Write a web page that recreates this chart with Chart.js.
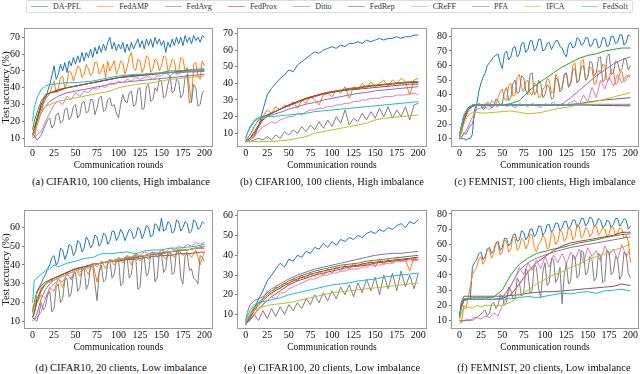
<!DOCTYPE html>
<html>
<head>
<meta charset="utf-8">
<script src="https://cdn.jsdelivr.net/npm/chart.js@4"></script>
<style>
  body { margin: 0; width: 640px; height: 374px; background: #fff; position: relative; overflow: hidden;
         font-family: "Liberation Serif", "Times New Roman", serif; }
  canvas { position: absolute; }
  .cap { position: absolute; font-size: 10.5px; line-height: 12px; color: #111; white-space: nowrap; transform: translateX(-50%); }
  #legend { position: absolute; left: 26px; top: 0; width: 607px; height: 13px; box-sizing: border-box;
            border: 1px solid #ddd; border-radius: 2px; display: flex; align-items: center;
            justify-content: space-between; padding: 0 4px; font-size: 8px; color: #333; }
  #legend .item { display: flex; align-items: center; }
  #legend .sw { width: 17px; height: 0; border-top: 1.3px solid; opacity: .55; margin-right: 5px; }
</style>
</head>
<body>
<div id="legend"></div>

<script>
const roundsDense = [0,2.5,5,7.5,10,12.5,15,17.5,20,22.5,25,27.5,30,32.5,35,37.5,40,42.5,45,47.5,50,52.5,55,57.5,60,62.5,65,67.5,70,72.5,75,77.5,80,82.5,85,87.5,90,92.5,95,97.5,100,102.5,105,107.5,110,112.5,115,117.5,120,122.5,125,127.5,130,132.5,135,137.5,140,142.5,145,147.5,150,152.5,155,157.5,160,162.5,165,167.5,170,172.5,175,177.5,180,182.5,185,187.5,190,192.5,195,197.5,200];
const roundsFine = [0,2,5,10,15,20,25,30,35,40,45,50,55,60,65,70,75,80,85,90,95,100,105,110,115,120,125,130,135,140,145,150,155,160,165,170,175,180,185,190,195,200];
const roundsCoarse = [0,2,5,10,15,20,25,30,40,50,60,70,80,90,100,110,120,130,140,150,160,170,180,190,200];
const xTicks = [0,25,50,75,100,125,150,175,200];

const methods = ['DA-PFL','FedAMP','FedAvg','FedProx','Ditto','FedRep','CReFF','PFA','IFCA','FedSoft'];

// (a) CIFAR10, 100 clients, High imbalance
const aDaPfl = [12,15,20,25,28,31,33,38,42,47, 53,45,48,54,50,55,49,56,53,58, 54,59,55,61,56,61,58,63,58,64,
  60,65,61,66,62,67,70,63,67,62, 66,63,67,61,66,62,67,63,66,69, 64,68,63,69,65,69,64,70,66,69,
  65,68,61,67,64,69,65,70,66,70, 65,71,67,70,66,71,68,70,67,71, 70];
const aFedAmp = [10,11,18,22,26,30,33,35,36,41, 44,37,40,46,47,40,43,50,49,44, 48,53,52,46,48,54,51,47,49,55,
  55,48,50,54,46,56,50,53,56,48, 51,56,55,48,52,58,61,52,50,57, 56,49,52,59,58,49,51,57,56,50,
  53,59,58,50,52,57,56,48,50,58, 57,50,52,41,31,54,55,47,45,56, 53];
const aFedAvg = [15,20,25,32,36,37,38,39,40,41,42,43,44,45,46,47,47.5,48,48.5,49,50,50,50.5,51,51];
const aFedProx = [12,16,22,30,35,37,37.5,38.5,40,41,42,43,44,45,46,46.5,47,47.5,48,48.5,49,49.5,50,50,50];
const aDitto = [11,13,18,25,29,32,33.5,35,37,38,39,40,41,42,43,43.5,44,44.5,45,45.5,46,46.5,47,47.5,48];
const aFedRep = [12,15,20,30,35,37,37.5,38,40,41,42,43,44,45,46,46.5,47,47.5,48,48.5,49,49,49.5,49.5,50];
const aCreff = [11,10,12,14,20,25,30,32,30,35,33,37,35,38,37,40,39,41,40,43,42,44,43,45,44,46,45,46,47,45,47,47,49,47,49,48,50,49,51,50,52,51];
const aPfa = [13,11,9,10,12,15,18,21,22,16, 18,24,25,19,20,27,28,21,23,29, 30,22,24,31,32,25,26,33,33,24,
  28,34,35,26,27,33,34,29,30,25, 22,30,36,32,31,37,38,29,30,39, 40,27,28,41,42,32,33,40,38,45,
  44,34,35,42,47,37,38,45,44,34, 36,46,48,31,32,42,40,29,30,37, 38];
const aIfca = [12,14,18,26,29,30,31,32,33,34,35,36,37,38,40,41,42,42.5,43,44,45,45.5,46,46.5,47];
const aFedSoft = [20,28,34,39,41,42,42,42.5,43,43,43.5,44,45,46,47,47.5,48,48,48.5,48.5,49,49,49.5,49.5,50];

// (b) CIFAR100, 100 clients, High imbalance
const bDaPfl = [6,5,6,8,14,24,33,37,40,43,45,48,47,51,53,55,57,59,58,60,61,62,61,63,62,64,64,65,64,66,65,66,67,66,67,67,68,67,68,68,69,69];
const bFedAmp = [5,5,6,9,14,20,24,22,26,24,27,26,29,25,30,28,32,30,27,33,34,32,36,34,38,31,38,36,40,37,41,38,40,42,38,42,40,43,41,33,42,43];
const bFedAvg = [5,7,9,14,18,20,21,22,24.5,27,29,31,32.5,34,35,36,37,37.5,38.5,39,39.5,40,40.5,41,41];
const bFedProx = [5,6,7,10,14,18,20,22,24.5,27,29,31,32.5,34,35,35.5,36.5,37,38,38.5,39,39.5,40,40.5,40.5];
const bDitto = [7,10,13,17,19,20,20.5,21,22.5,24.5,26,27.5,28.5,30,31,32,33,34,34.5,35.5,36,36.5,37,37.5,38];
const bFedRep = [5,6,7,11,15,19,21,22,24.5,26.5,28.5,30.5,32,33.5,34.5,35.5,36,36.5,37,37.5,38,38.5,39,39.5,39.5];
const bCreff = [5,5,6,8,11,14,15,17,16,18,19,20,20,22,21,23,24,24,25,25,26,26,27,27,28,28,29,29,30,30,31,31,31,32,32,32,33,33,33,34,34,33];
const bPfa = [5,5,5,6,7,6,8,6,9,7,11,9,12,10,14,11,15,12,17,13,18,14,20,16,24,15,19,17,22,18,23,19,25,20,26,19,24,20,26,18,27,28];
const bIfca = [5,5,5,5,5,5,5,5,5.5,6,7,8,10,11,12,13,14,15,16,18,19,19.5,20,20.5,21];
const bFedSoft = [7,10,14,18,19.5,20,20,20,20.5,21,21.5,22,23,23.5,24,24.5,25,25.5,26,26.5,27,27.5,28,28.5,29];

// (c) FEMNIST, 100 clients, High imbalance
const cDaPfl = [10,10,10,9,10,10,13,30,33,42, 48,52,55,60,62,64,66,67,68,62, 58,68,70,64,66,72,73,66,68,75,
  76,69,71,77,77,70,72,78,78,70, 71,75,76,71,74,77,77,73,72,68, 66,74,76,72,73,79,78,74,75,79,
  79,73,74,78,78,72,73,79,79,73, 74,80,80,75,76,81,81,74,76,81, 80];
const cFedAmp = [12,14,22,25,28,30,32,33,32,34, 33,31,34,33,32,36,35,33,38,42, 44,37,36,46,48,39,40,52,54,45,
  42,49,50,41,40,48,47,38,39,44, 45,51,50,41,42,54,52,44,45,53, 55,46,48,60,62,49,50,63,64,50,
  52,59,58,47,48,57,55,61,60,50, 50,57,57,47,48,55,56,49,50,54, 53];
const cFedAvg = [13,18,25,31,33,33,33,33,33,33,34,36,42,47,51,55,59,62,65,67,68,70,71,72,72];
const cFedProx = [12,18,26,31,33,33,33,33,33,33,33,33,33,33,33,33,33,33,33,33,32.8,32.7,32.6,32.5,32.5];
const cDitto = [12,17,24,30,32,33,33,33,33,33,33,33,33,33,33,33,33.5,38,43,48,53,57,61,64,66];
const cFedRep = [11,16,22,30,32,33,33,33,33,33,33,33,33,33,33,33,33,33.5,34,35,35.8,36.5,37,37.5,38];
const cCreff = [10,11,13,18,25,30,31,32,30,33,32,34,32,33,31,34,33,32,34,33,31,34,33,35,32,34,33,35,36,33,40,35,45,38,50,44,52,46,54,48,53,52];
const cPfa = [10,11,14,13,16,19,20,26,32,34, 33,30,31,35,34,31,32,37,36,33, 34,42,45,36,38,48,50,41,42,53,
  52,43,40,54,55,40,42,50,48,38, 40,47,45,37,38,52,50,42,44,54, 55,45,47,57,58,48,50,59,60,50,
  52,63,62,53,55,65,66,49,50,66, 68,54,55,63,62,56,58,65,64,57, 60];
const cIfca = [10,14,20,26,28,28,27.5,27.5,28,28.5,29,28,27,27.5,28.5,30,31,32,33.5,34.5,35.5,37,38.5,40,41.5];
const cFedSoft = [12,18,26,31,33,33,33,33,33,33,33,33,33,33,33,33,33,33,33.2,33.4,33.5,33.5,33.5,33.5,33.5];

// (d) CIFAR10, 20 clients, Low imbalance
const dDaPfl = [17,19,25,28,30,33,35,38,40,44, 45,40,42,49,48,43,46,51,50,45, 47,53,52,47,49,55,53,49,51,56,
  55,50,52,57,56,51,53,58,58,53, 55,59,57,53,56,59,58,54,55,60, 59,54,57,61,60,55,56,62,61,58,
  65,58,59,63,62,57,58,64,63,58, 60,63,62,57,58,64,63,59,60,63, 62];
const dFedAmp = [16,18,20,24,22,28,26,33,28,36,32,38,34,39,35,41,31,42,38,43,40,44,41,45,40,46,42,45,43,47,44,46,43,47,44,48,45,47,44,48,40,47];
const dFedAvg = [12,14,20,26,30,32,33,34,36,38,39,40,41,42,43,43.5,44,45,46,46.5,47,47.5,48,49,50];
const dFedProx = [12,15,22,27,30,31,33,34,36,38,39,40.5,41,42,43,44,44,45,46,46,47,48,48,49,49];
const dDitto = [10,11,14,22,27,30,32,33,35,37,38.5,40,41,42,42.5,43,44,45,45.5,46,47,47.5,48,49,50];
const dFedRep = [15,20,26,29,31,32,33,34,36,38,39,40,41,42,42,43,43,44,44.5,45,45,46,46,46.5,47];
const dCreff = [10,11,12,15,22,28,30,32,31,35,33,38,36,39,38,41,39,42,41,43,42,44,43,45,44,46,45,47,46,47,46,48,47,49,48,50,49,51,50,52,51,52];
const dPfa = [12,11,10,14,20,16,18,24,26,15, 17,28,30,20,22,32,33,23,25,35, 36,26,28,37,38,27,30,40,40,30,
  21,36,40,31,32,41,42,33,35,43, 43,29,30,44,44,33,35,45,45,27, 28,43,44,34,36,46,46,31,33,46,
  46,36,38,47,47,35,36,48,48,33, 30,45,46,37,38,33,32,30,45,44, 42];
const dIfca = [14,18,25,28,30,31,32,33,35,37,38,40,41,42,43,44,45,45,46,47,47,48,48,49,50];
const dFedSoft = [20,32,33,35,37,38,40,39,41,42,43.5,44,46,46,46.5,47,46,47.5,48,48,49,49,49.5,50,51];

// (e) CIFAR100, 20 clients, Low imbalance
const eDaPfl = [5,6,9,13,18,22,27,30,33,36,34,38,37,40,39,42,41,44,43,46,44,47,45,48,47,49,48,50,49,51,52,51,53,52,54,53,55,56,54,57,56,58];
const eFedAmp = [5,6,9,13,16,18,22,20,24,23,26,25,28,27,30,28,31,29,32,30,33,31,34,32,35,33,36,34,36,35,37,34,38,35,38,36,39,37,38,32,39,37];
const eFedAvg = [5,7,10,14,16,18,20,22,24.5,27,29,30.5,32,33,34,35,35.5,36,37,37.5,38,38.5,39,39.5,40];
const eFedProx = [5,6,8,12,15,17,19,21,23.5,26,28,29.5,31,32,33,34,34.5,35,36,36.5,37,37.5,38,38.5,39];
const eDitto = [7,11,15,17,18,19,21,23,25.5,28,30,31.5,33,34,35,36,37,38,39,40,40.5,41,41,41.5,42];
const eFedRep = [5,6,7,10,13,15,17,19,22,25,27,28.5,30,31,32,33,34,34.5,35,36,36.5,37,37.5,38,38];
const eCreff = [5,6,7,10,13,15,17,19,18,21,21,23,24,25,26,27,28,28,29,30,30,31,31,32,32,33,33,33,34,34,35,35,35,36,36,36,37,37,37,38,37,38];
const ePfa = [5,6,8,10,7,12,8,13,9,14,10,15,12,16,13,18,15,20,16,21,17,22,18,24,20,25,19,26,21,28,22,29,20,30,23,31,22,32,24,30,23,31];
const eIfca = [6,8,10,12,13,14,14.5,15,15.5,16,17,18,19,20,21,21.5,22,22.5,23,23.5,24,24.5,25,25.5,26];
const eFedSoft = [6,9,12,15,16,16.5,17,17.5,18.5,20,21,22,23,24,25,25.5,26,27,27.5,28,29,29.5,30,30.5,31];

// (f) FEMNIST, 20 clients, Low imbalance
const fDaPfl = [14,20,24,24,24,24,45,48,50,54, 55,50,52,57,58,54,56,61,62,56, 58,64,64,59,61,66,67,62,63,69,
  68,63,65,70,70,65,67,72,72,66, 68,73,73,68,70,74,74,69,71,75, 75,70,72,76,76,71,73,77,77,72,
  74,78,77,72,73,77,76,71,72,76, 75,71,73,77,77,72,74,77,76,70, 72];
const fFedAmp = [8,9,20,18,25,32,40,43,45,50, 52,47,50,57,56,51,54,61,60,53, 55,63,62,55,57,65,64,56,58,64,
  63,57,60,67,66,58,55,60,62,66, 64,57,58,68,67,60,62,69,68,62, 64,71,70,63,65,73,72,64,66,71,
  70,65,67,72,72,66,68,71,70,65, 67,72,71,66,68,71,70,64,66,62, 48];
const fFedAvg = [13,20,24,24.5,25,25,25,25,25.5,30,40,47,51,54,55.5,57,58,59.5,61,62,63,64.5,65.5,66.5,67];
const fFedProx = [12,20,24,24,24,24,24,24,24,24.5,27,34,42,48,52,56,59,61,62,63,64,65,66,68,68];
const fDitto = [12,18,23,24,24,24,24,24,24,25,33,43,48,51,53,55,56.5,58,59,60,61,62,63,64,65];
const fFedRep = [12,22,26,26,26,26,26,26,26,26,26.5,27,28,28.5,29,29,29.5,30,30.5,31,31.5,32,32.5,34,33];
const fCreff = [10,9,10,11,10,12,11,13,12,15,13,20,25,33,38,45,40,48,43,50,44,52,45,53,48,54,47,55,50,57,48,58,52,56,49,59,53,57,50,60,52,57];
const fPfa = [10,10,10,10,10,10,11,12,12,13, 14,16,17,13,15,21,22,18,20,27, 26,20,22,32,30,24,25,38,35,26,
  28,44,42,28,30,47,45,31,25,42, 48,33,35,51,50,35,38,45,21,40, 48,34,36,53,52,38,40,56,55,40,
  42,52,50,36,38,54,53,35,36,56, 55,40,42,52,50,37,40,55,54,41, 38];
const fIfca = [10,15,18,19,18,20,19,20,20,20,22,26,30,34,37,40,42,45,47,50,52,54,56,58,60];
const fFedSoft = [12,18,23,24,24,24,24,24,24,24,24.5,25,26,25,26,27,28,27.5,28.5,29,28,29.5,30,30.5,29.5];

const yTicksA = [10,20,30,40,50,60,70];
const yTicksB = [10,20,30,40,50,60,70];
const yTicksC = [10,20,30,40,50,60,70,80];
const yTicksD = [10,20,30,40,50,60];
const yTicksE = [10,20,30,40,50,60];
const yTicksF = [10,20,30,40,50,60,70,80];

const colors = ['#1f77b4','#ff7f0e','#2ca02c','#d62728','#9467bd','#8c564b','#e377c2','#7f7f7f','#bcbd22','#17becf'];

const panels = [
  { series: [aDaPfl,aFedAmp,aFedAvg,aFedProx,aDitto,aFedRep,aCreff,aPfa,aIfca,aFedSoft], yTicks: yTicksA,
    yMin: 4.8, yMax: 75.5, yTitle: true, caption: '(a) CIFAR10, 100 clients, High imbalance',
    left: 0, top: 18, width: 215, yWidth: 24, padRight: 2, capX: 121, capY: 176 },
  { series: [bDaPfl,bFedAmp,bFedAvg,bFedProx,bDitto,bFedRep,bCreff,bPfa,bIfca,bFedSoft], yTicks: yTicksB,
    yMin: 1.75, yMax: 73.25, yTitle: false, caption: '(b) CIFAR100, 100 clients, High imbalance',
    left: 213, top: 18, width: 215, yWidth: 24, padRight: 1, capX: 332, capY: 176 },
  { series: [cDaPfl,cFedAmp,cFedAvg,cFedProx,cDitto,cFedRep,cCreff,cPfa,cIfca,cFedSoft], yTicks: yTicksC,
    yMin: 4.3, yMax: 85.7, yTitle: false, caption: '(c) FEMNIST, 100 clients, High imbalance',
    left: 428, top: 18, width: 212, yWidth: 23, padRight: 1, capX: 545, capY: 176 },
  { series: [dDaPfl,dFedAmp,dFedAvg,dFedProx,dDitto,dFedRep,dCreff,dPfa,dIfca,dFedSoft], yTicks: yTicksD,
    yMin: 5.9, yMax: 69.3, yTitle: true, caption: '(d) CIFAR10, 20 clients, Low imbalance',
    left: 0, top: 200, width: 215, yWidth: 24, padRight: 2, capX: 121, capY: 362 },
  { series: [eDaPfl,eFedAmp,eFedAvg,eFedProx,eDitto,eFedRep,eCreff,ePfa,eIfca,eFedSoft], yTicks: yTicksE,
    yMin: 2.7, yMax: 62.9, yTitle: false, caption: '(e) CIFAR100, 20 clients, Low imbalance',
    left: 213, top: 200, width: 215, yWidth: 24, padRight: 1, capX: 332, capY: 362 },
  { series: [fDaPfl,fFedAmp,fFedAvg,fFedProx,fDitto,fFedRep,fCreff,fPfa,fIfca,fFedSoft], yTicks: yTicksF,
    yMin: 4.5, yMax: 82.6, yTitle: false, caption: '(f) FEMNIST, 20 clients, Low imbalance',
    left: 428, top: 200, width: 212, yWidth: 23, padRight: 1, capX: 544, capY: 362 }
];

// legend across the top
const legend = document.getElementById('legend');
methods.forEach((m, i) => {
  const item = document.createElement('div');
  item.className = 'item';
  item.innerHTML = '<span class="sw" style="border-color:' + colors[i] + '"></span><span>' + m + '</span>';
  legend.appendChild(item);
});

// box round the plot area
const frame = {
  id: 'frame',
  beforeDatasetsDraw(chart) {
    const { ctx, chartArea: a } = chart;
    ctx.save();
    ctx.strokeStyle = '#9a9a9a';
    ctx.lineWidth = 1;
    ctx.strokeRect(a.left + 0.5, a.top + 0.5, a.right - a.left - 1, a.bottom - a.top - 1);
    ctx.restore();
  }
};

const serif = '"Liberation Serif", "Times New Roman", serif';

function roundsFor(vals) {
  if (vals.length === roundsDense.length) return roundsDense;
  if (vals.length === roundsFine.length) return roundsFine;
  return roundsCoarse;
}

panels.forEach(p => {
  const canvas = document.createElement('canvas');
  canvas.width = p.width;
  canvas.height = 157;
  canvas.style.left = p.left + 'px';
  canvas.style.top = p.top + 'px';
  document.body.appendChild(canvas);

  const cap = document.createElement('div');
  cap.className = 'cap';
  cap.style.left = p.capX + 'px';
  cap.style.top = p.capY + 'px';
  cap.textContent = p.caption;
  document.body.appendChild(cap);

  const datasets = p.series.map((vals, i) => {
    const rounds = roundsFor(vals);
    return {
      label: methods[i],
      data: vals.map((v, k) => ({ x: rounds[k], y: v })),
      borderColor: colors[i],
      borderWidth: 1,
      pointRadius: 0,
      tension: 0,
      fill: false,
      order: 10 - i
    };
  });

  new Chart(canvas, {
    type: 'line',
    data: { datasets },
    options: {
      responsive: false,
      animation: false,
      layout: { padding: { top: 10, right: p.padRight, bottom: 0, left: 0 } },
      plugins: { legend: { display: false }, tooltip: { enabled: false } },
      scales: {
        x: {
          type: 'linear', min: -10, max: 210,
          afterBuildTicks: s => { s.ticks = xTicks.map(v => ({ value: v })); },
          afterFit: s => { s.height = 28; },
          grid: { display: false, drawTicks: false, tickLength: 0 },
          border: { display: false },
          ticks: { color: '#111', padding: 1, maxRotation: 0, font: { family: serif, size: 10, lineHeight: 1 } },
          title: { display: true, text: 'Communication rounds', color: '#111',
                   font: { family: serif, size: 9.5 }, padding: { top: 0, bottom: 4 } }
        },
        y: {
          min: p.yMin, max: p.yMax,
          afterBuildTicks: s => { s.ticks = p.yTicks.map(v => ({ value: v })); },
          afterFit: s => { s.width = p.yWidth; },
          grid: { drawOnChartArea: false, drawTicks: true, tickLength: 2, color: '#777' },
          border: { display: false },
          ticks: { color: '#111', padding: 2, font: { family: serif, size: 10 } },
          title: { display: p.yTitle, text: 'Test accuracy (%)', color: '#111',
                   font: { family: serif, size: 10 }, padding: 0 }
        }
      }
    },
    plugins: [frame]
  });
});
</script>
</body>
</html>
